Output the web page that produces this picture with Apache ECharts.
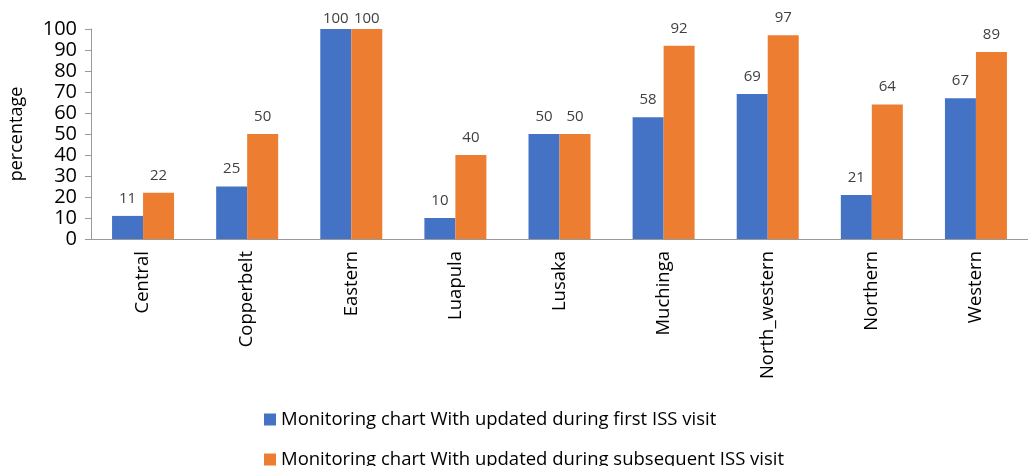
<!DOCTYPE html>
<html><head><meta charset="utf-8">
<script src="https://cdn.jsdelivr.net/npm/echarts@6/dist/echarts.min.js"></script>
<style>html,body{margin:0;padding:0;background:#fff}#c{width:1028px;height:466px}</style>
</head><body><div id="c"></div>
<script>
const categories = ['Central','Copperbelt','Eastern','Luapula','Lusaka','Muchinga','North_western','Northern','Western'];
const firstVisit = [11,25,100,10,50,58,69,21,67];
const subsequentVisit = [22,50,100,40,50,92,97,64,89];
const seriesNames = ['Monitoring chart With updated during first ISS visit','Monitoring chart With updated during subsequent ISS visit'];
const yTicks = {min:0,max:100,interval:10};
const font = 'Open Sans';
const chart = echarts.init(document.getElementById('c'));
const lbl = {show:true,position:'top',distance:10,color:'#404040',fontSize:15,fontFamily:font};
const toData = arr => arr.map(v => v >= yTicks.max ? {value:v,label:{distance:3}} : v);
const legendBase = {orient:'horizontal',left:259,itemWidth:12,itemHeight:12,itemGap:8,icon:'rect',
    textStyle:{fontSize:18.5,color:'#000',fontFamily:font,padding:[0,0,0,0]}};
chart.setOption({
  animation:false,
  textStyle:{fontFamily:font},
  grid:{left:87,right:-15,top:29,bottom:227},
  legend:[
    Object.assign({},legendBase,{top:405,data:[seriesNames[0]]}),
    Object.assign({},legendBase,{top:445,data:[seriesNames[1]]})
  ],
  xAxis:{type:'category',data:categories,
    axisLine:{lineStyle:{color:'#999'}},axisTick:{show:false},
    axisLabel:{rotate:90,fontSize:18.5,color:'#000',margin:12,fontFamily:font,interval:0}},
  yAxis:{type:'value',min:yTicks.min,max:yTicks.max,interval:yTicks.interval,
    name:'percentage',nameLocation:'middle',nameGap:65,nameRotate:90,
    nameTextStyle:{fontSize:18,color:'#000',fontFamily:font},
    axisLine:{show:true,lineStyle:{color:'#999'}},axisTick:{show:true,length:6,lineStyle:{color:'#999'}},
    splitLine:{show:false},
    axisLabel:{fontSize:20,color:'#000',margin:14,fontFamily:font}},
  series:[
    {name:seriesNames[0],type:'bar',data:toData(firstVisit),barGap:'0%',barWidth:31,itemStyle:{color:'#4472C4'},label:lbl},
    {name:seriesNames[1],type:'bar',data:toData(subsequentVisit),barWidth:31,itemStyle:{color:'#ED7D31'},label:lbl}
  ]
});
</script></body></html>
